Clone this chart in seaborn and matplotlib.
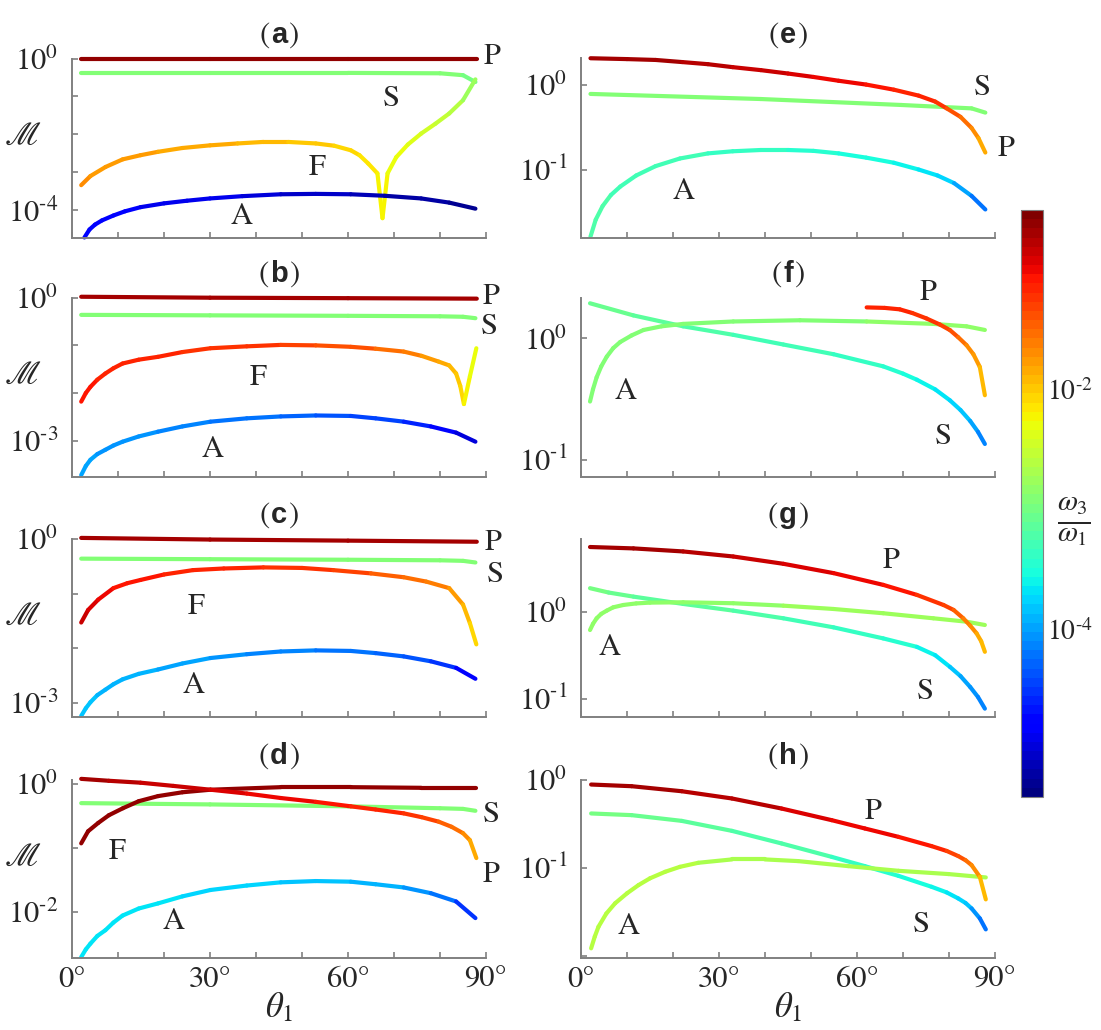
import numpy as np
import matplotlib
matplotlib.use("Agg")
import matplotlib.pyplot as plt
import seaborn as sns
from matplotlib.collections import LineCollection
from matplotlib.colors import LogNorm
from matplotlib.cm import ScalarMappable
from matplotlib.ticker import NullLocator
from matplotlib.offsetbox import TextArea, HPacker, AnchoredOffsetbox

# --- dados: theta1 (graus), log10(M), log10(w3/w1) ---
# (a)
a_P_th = [2, 30, 60, 88]
a_P_m = [-0.02, -0.02, -0.02, -0.02]
a_P_w = [-0.65, -0.65, -0.65, -0.65]
a_S_th = [2, 30, 60, 80, 85, 87.7]
a_S_m = [-0.38, -0.38, -0.38, -0.39, -0.44, -0.62]
a_S_w = [-2.95, -2.95, -2.95, -2.95, -2.95, -3.1]
a_F_th = [2, 4, 7.3, 11, 14.9, 18.7, 24, 30, 36, 41.6, 47, 53, 57, 60.6, 62.5, 64.4,
          66.4, 67.5, 68.6, 70.5, 73, 75.9, 79, 82, 85, 87.7]
a_F_m = [-3.34, -3.1, -2.86, -2.66, -2.55, -2.46, -2.36, -2.29, -2.24, -2.2, -2.2, -2.24, -2.3,
         -2.42, -2.55, -2.77, -3.03, -4.21, -3.03, -2.6, -2.27, -1.98, -1.72, -1.45, -1.1, -0.55]
a_F_w = [-1.72, -1.73, -1.75, -1.77, -1.79, -1.8, -1.82, -1.84, -1.87, -1.9, -1.94, -1.98, -2.02,
         -2.06, -2.1, -2.15, -2.2, -2.25, -2.27, -2.3, -2.35, -2.4, -2.48, -2.56, -2.7, -2.85]
a_A_th = [2.7, 3.8, 5, 6.5, 9, 11.5, 14.9, 20, 25, 30, 37, 45.4, 53, 60.6, 68, 75.9, 82, 87.7]
a_A_m = [-4.72, -4.51, -4.38, -4.27, -4.14, -4.03, -3.92, -3.82, -3.75, -3.69, -3.63, -3.58,
         -3.57, -3.58, -3.62, -3.69, -3.8, -3.96]
a_A_w = [-4.71, -4.76, -4.78, -4.81, -4.83, -4.85, -4.86, -4.88, -4.9, -4.91, -4.95, -5.0,
         -5.05, -5.11, -5.16, -5.2, -5.25, -5.3]

# (b)
b_P_th = [2, 30, 60, 88]
b_P_m = [0.02, 0.0, -0.01, -0.02]
b_P_w = [-0.7, -0.7, -0.7, -0.7]
b_S_th = [2, 30, 60, 80, 85, 87.7]
b_S_m = [-0.36, -0.37, -0.38, -0.39, -0.40, -0.43]
b_S_w = [-2.95, -2.95, -2.95, -2.95, -2.95, -2.95]
b_F_th = [2, 3, 4, 5.5, 7.25, 9, 11, 14.5, 18.7, 24, 30.1, 38, 45.4, 53, 60.6, 66, 72.1, 76,
          79.7, 82, 83.5, 84.4, 85.2, 86.5, 87.9]
b_F_m = [-2.18, -2.0, -1.87, -1.72, -1.59, -1.48, -1.38, -1.30, -1.24, -1.14, -1.06, -1.02,
         -0.99, -1.0, -1.03, -1.07, -1.13, -1.22, -1.34, -1.42, -1.59, -1.85, -2.23, -1.65, -1.06]
b_F_w = [-1.08, -1.09, -1.1, -1.11, -1.12, -1.13, -1.14, -1.15, -1.17, -1.19, -1.21, -1.25,
         -1.28, -1.33, -1.38, -1.45, -1.55, -1.67, -1.8, -1.88, -1.95, -2.05, -2.15, -2.25, -2.36]
b_A_th = [2, 3, 4, 5.5, 7.25, 9, 11, 14.5, 18.7, 24, 30.1, 38, 45.4, 53, 60.6, 66, 72.1, 78,
          83.5, 87.7]
b_A_m = [-3.72, -3.53, -3.40, -3.28, -3.19, -3.1, -3.02, -2.91, -2.81, -2.7, -2.6, -2.53,
         -2.49, -2.47, -2.48, -2.53, -2.6, -2.7, -2.83, -3.02]
b_A_w = [-3.98, -3.99, -4.0, -4.02, -4.03, -4.04, -4.05, -4.06, -4.08, -4.13, -4.18, -4.23,
         -4.27, -4.33, -4.38, -4.44, -4.52, -4.65, -4.81, -5.2]

# (c)
c_P_th = [2, 30, 60, 88]
c_P_m = [0.02, -0.01, -0.03, -0.05]
c_P_w = [-0.7, -0.7, -0.7, -0.7]
c_S_th = [2, 30, 60, 80, 85, 87.7]
c_S_m = [-0.36, -0.37, -0.38, -0.39, -0.40, -0.43]
c_S_w = [-2.95, -2.95, -2.95, -2.95, -2.95, -2.95]
c_F_th = [2, 3.5, 5.7, 9, 12, 14.9, 20, 26.3, 33, 41.6, 50, 56.8, 65, 72.1, 77, 82, 85, 86.5, 87.9]
c_F_m = [-1.53, -1.30, -1.11, -0.90, -0.81, -0.75, -0.65, -0.57, -0.54, -0.52, -0.53, -0.57,
         -0.63, -0.70, -0.78, -0.90, -1.20, -1.54, -1.93]
c_F_w = [-0.84, -0.9, -0.99, -1.04, -1.07, -1.09, -1.12, -1.14, -1.16, -1.19, -1.23, -1.28,
         -1.38, -1.48, -1.58, -1.68, -1.87, -2.0, -2.17]
c_A_th = [2, 3, 4, 5.5, 7.25, 9, 11, 14.5, 18.7, 24, 30.1, 38, 45.4, 53, 60.6, 66, 72.1, 78,
          83.5, 87.7]
c_A_m = [-3.24, -3.1, -2.99, -2.86, -2.76, -2.66, -2.57, -2.47, -2.39, -2.28, -2.18, -2.11,
         -2.06, -2.04, -2.05, -2.09, -2.15, -2.24, -2.36, -2.56]
c_A_w = [-3.83, -3.84, -3.85, -3.87, -3.88, -3.89, -3.9, -3.92, -3.93, -3.98, -4.03, -4.08,
         -4.13, -4.16, -4.2, -4.25, -4.32, -4.45, -4.62, -5.0]

# (d)
d_P_th = [2, 8, 14.9, 22, 30.1, 38, 45.4, 53, 60.6, 66, 72.1, 76, 79.7, 82.5, 85, 86.5, 87.9]
d_P_m = [0.08, 0.05, 0.02, -0.03, -0.09, -0.15, -0.22, -0.28, -0.35, -0.40, -0.46, -0.52,
         -0.59, -0.67, -0.77, -0.88, -1.16]
d_P_w = [-0.7, -0.74, -0.79, -0.84, -0.89, -0.94, -0.99, -1.04, -1.09, -1.14, -1.19, -1.28,
         -1.38, -1.48, -1.58, -1.75, -1.92]
d_F_th = [2, 3.5, 5.7, 8, 11.06, 14.5, 18.7, 24, 30.1, 45.4, 60.6, 75.9, 87.9]
d_F_m = [-0.93, -0.74, -0.61, -0.49, -0.38, -0.27, -0.19, -0.13, -0.09, -0.05, -0.05, -0.06, -0.06]
d_F_w = [-0.65, -0.65, -0.65, -0.65, -0.65, -0.65, -0.65, -0.65, -0.65, -0.65, -0.65, -0.65, -0.65]
d_S_th = [2, 30, 60, 80, 85, 87.7]
d_S_m = [-0.30, -0.32, -0.35, -0.38, -0.39, -0.42]
d_S_w = [-2.95, -2.95, -2.95, -2.95, -2.95, -2.95]
d_A_th = [2, 3, 4, 5.5, 7.25, 9, 11, 14.5, 18.7, 24, 30.1, 38, 45.4, 53, 60.6, 66, 72.1, 78,
          83.5, 87.7]
d_A_m = [-2.71, -2.59, -2.50, -2.38, -2.29, -2.17, -2.06, -1.95, -1.87, -1.76, -1.66, -1.59,
         -1.54, -1.52, -1.53, -1.57, -1.62, -1.71, -1.84, -2.10]
d_A_w = [-3.64, -3.65, -3.66, -3.67, -3.69, -3.7, -3.7, -3.71, -3.71, -3.72, -3.73, -3.76,
         -3.78, -3.81, -3.85, -3.9, -3.98, -4.1, -4.27, -4.76]

# (e)
e_P_th = [2.06, 10, 16.2, 22, 27.6, 33, 39.1, 45, 50.5, 56, 62, 68, 73.4, 77, 79.5, 82.5,
          84.9, 86.4, 87.9]
e_P_m = [0.31, 0.30, 0.29, 0.265, 0.24, 0.205, 0.17, 0.13, 0.09, 0.045, 0.0, -0.06, -0.13,
         -0.2, -0.28, -0.38, -0.51, -0.63, -0.80]
e_P_w = [-0.65, -0.68, -0.7, -0.72, -0.75, -0.8, -0.84, -0.89, -0.94, -0.99, -1.04, -1.09,
         -1.14, -1.2, -1.28, -1.42, -1.58, -1.77, -1.97]
e_S_th = [2.06, 39.1, 69.6, 84.9, 87.9]
e_S_m = [-0.11, -0.17, -0.24, -0.28, -0.33]
e_S_w = [-2.95, -2.95, -2.95, -2.95, -2.95]
e_A_th = [2.06, 3.2, 4.7, 6.5, 8.55, 12, 16.2, 21.5, 27.6, 33, 39.1, 45, 50.5, 56, 62, 68,
          73.4, 77.5, 81.1, 84.9, 87.9]
e_A_m = [-1.79, -1.59, -1.43, -1.30, -1.20, -1.07, -0.96, -0.87, -0.81, -0.785, -0.77, -0.77,
         -0.78, -0.81, -0.86, -0.92, -1.0, -1.07, -1.16, -1.31, -1.47]
e_A_w = [-3.24, -3.24, -3.24, -3.26, -3.29, -3.29, -3.29, -3.31, -3.34, -3.36, -3.39, -3.41,
         -3.44, -3.47, -3.51, -3.55, -3.59, -3.7, -3.83, -4.08, -4.42]

# (f)
f_S_th = [1.96, 11.4, 22.2, 33.1, 44, 54.9, 65.7, 70, 73, 77, 80.2, 82.5, 84.6, 86.3, 87.8]
f_S_m = [0.29, 0.19, 0.10, 0.03, -0.05, -0.13, -0.23, -0.29, -0.34, -0.42, -0.51, -0.59,
         -0.68, -0.77, -0.87]
f_S_w = [-3.05, -3.1, -3.2, -3.24, -3.29, -3.34, -3.44, -3.49, -3.54, -3.6, -3.69, -3.78,
         -3.88, -4.03, -4.22]
f_A_th = [1.96, 2.6, 3.4, 4.4, 5.6, 7, 8.5, 11, 13.6, 17.5, 22.2, 33.1, 47.6, 62.1, 76.6, 83.8, 87.8]
f_A_m = [-0.52, -0.42, -0.32, -0.23, -0.15, -0.08, -0.03, 0.025, 0.07, 0.10, 0.12, 0.14, 0.15,
         0.14, 0.12, 0.10, 0.07]
f_A_w = [-2.95, -2.95, -2.95, -2.95, -2.94, -2.94, -2.93, -2.93, -2.92, -2.91, -2.9, -2.89,
         -2.88, -2.87, -2.86, -2.85, -2.85]
f_P_th = [62.1, 66, 69.3, 72, 75.1, 78, 80.2, 82, 83.8, 85.3, 86.7, 87.8]
f_P_m = [0.256, 0.252, 0.24, 0.21, 0.165, 0.115, 0.069, 0.01, -0.055, -0.13, -0.235, -0.468]
f_P_w = [-1.14, -1.15, -1.16, -1.2, -1.24, -1.29, -1.33, -1.45, -1.58, -1.72, -1.87, -2.02]

# (g)
g_P_th = [1.96, 11.4, 22.2, 33.1, 44, 54.9, 65.7, 73, 78.8, 81, 83.1, 84.6, 86, 87, 87.8]
g_P_m = [0.743, 0.727, 0.692, 0.634, 0.55, 0.443, 0.308, 0.193, 0.077, 0.02, -0.076, -0.16,
         -0.249, -0.34, -0.461]
g_P_w = [-0.65, -0.7, -0.72, -0.79, -0.84, -0.94, -1.04, -1.14, -1.28, -1.4, -1.53, -1.65,
         -1.77, -1.87, -1.97]
g_S_th = [1.96, 6, 11.4, 22.2, 33.1, 44, 54.9, 65.7, 73, 77, 80.2, 82.5, 84.6, 86.3, 87.8]
g_S_m = [0.27, 0.22, 0.173, 0.089, 0.012, -0.076, -0.18, -0.307, -0.404, -0.5, -0.634, -0.74,
         -0.865, -0.98, -1.114]
g_S_w = [-3.0, -3.05, -3.1, -3.15, -3.2, -3.24, -3.29, -3.39, -3.54, -3.65, -3.78, -3.9,
         -4.03, -4.12, -4.22]
g_A_th = [1.96, 2.6, 3.4, 4.4, 5.6, 7, 9.2, 12, 15, 22.2, 33.1, 44, 54.9, 65.7, 76.6, 83.8, 87.8]
g_A_m = [-0.211, -0.14, -0.076, -0.025, 0.012, 0.05, 0.077, 0.095, 0.104, 0.108, 0.097, 0.069,
         0.031, -0.018, -0.076, -0.115, -0.153]
g_A_w = [-2.85, -2.85, -2.85, -2.85, -2.85, -2.84, -2.84, -2.83, -2.83, -2.82, -2.81, -2.8,
         -2.79, -2.78, -2.77, -2.76, -2.75]

# (h)
h_th = [2.2, 11, 21.9, 32.8, 43.6, 54.5, 61.7, 69, 76.2, 79.5, 82, 83.6, 84.9, 86.7, 88]
h_P_m = [-0.057, -0.076, -0.133, -0.215, -0.329, -0.461, -0.555, -0.65, -0.755, -0.81, -0.868,
         -0.915, -0.97, -1.103, -1.359]
h_P_w = [-0.65, -0.67, -0.72, -0.77, -0.84, -0.94, -0.99, -1.06, -1.14, -1.22, -1.33, -1.45,
         -1.58, -1.82, -1.97]
h_S_m = [-0.385, -0.404, -0.469, -0.582, -0.725, -0.877, -0.982, -1.092, -1.216, -1.28,
         -1.348, -1.40, -1.461, -1.574, -1.699]
h_S_w = [-3.0, -3.02, -3.1, -3.15, -3.22, -3.29, -3.39, -3.46, -3.54, -3.6, -3.69, -3.8,
         -3.93, -4.13, -4.32]
h_A_th = [2.2, 3, 3.8, 5.5, 7.4, 10, 12.5, 15, 18.3, 21.5, 25.5, 32.8, 40, 47.2, 58.1, 69, 79.9, 88]
h_A_m = [-1.914, -1.78, -1.669, -1.52, -1.404, -1.29, -1.197, -1.12, -1.046, -0.99, -0.944,
         -0.906, -0.906, -0.925, -0.982, -1.035, -1.072, -1.11]
h_A_w = [-2.6, -2.6, -2.6, -2.6, -2.61, -2.61, -2.62, -2.62, -2.63, -2.63, -2.64, -2.65,
         -2.66, -2.67, -2.68, -2.69, -2.7, -2.7]

# limites do eixo y (log10) e décadas com rótulo
ylims = {"a": (-4.72, 0.0), "b": (-3.75, 0.0), "c": (-3.26, 0.0), "d": (-2.72, 0.07),
         "e": (-1.80, 0.307), "f": (-1.138, 0.336), "g": (-1.21, 0.835), "h": (-2.02, 0.0)}
ylabeled = {"a": (0, -4), "b": (0, -3), "c": (0, -3), "d": (0, -2),
            "e": (0, -1), "f": (0, -1), "g": (0, -1), "h": (0, -1)}

# rótulos das curvas: (texto, theta, log10 M)
labels = {
    "a": [("P", 91.4, 0.04), ("S", 69.4, -1.06), ("F", 53.4, -2.9), ("A", 36.8, -4.18)],
    "b": [("P", 91.1, 0.02), ("S", 90.8, -0.61), ("F", 40.4, -1.69), ("A", 30.5, -3.19)],
    "c": [("P", 91.5, -0.08), ("S", 91.9, -0.66), ("F", 27.1, -1.24), ("A", 26.5, -2.70)],
    "d": [("F", 9.9, -1.06), ("S", 91.1, -0.48), ("P", 91.1, -1.42), ("A", 22.0, -2.16)],
    "e": [("S", 87.2, -0.04), ("P", 92.4, -0.76), ("A", 22.3, -1.26)],
    "f": [("P", 75.5, 0.377), ("A", 9.6, -0.44), ("S", 78.8, -0.81)],
    "g": [("P", 67.5, 0.577), ("A", 6.3, -0.42), ("S", 74.8, -0.92)],
    "h": [("P", 63.5, -0.367), ("A", 10.3, -1.67), ("S", 74.0, -1.65)],
}

curves = {
    "a": [(a_P_th, a_P_m, a_P_w), (a_S_th, a_S_m, a_S_w), (a_F_th, a_F_m, a_F_w), (a_A_th, a_A_m, a_A_w)],
    "b": [(b_P_th, b_P_m, b_P_w), (b_S_th, b_S_m, b_S_w), (b_F_th, b_F_m, b_F_w), (b_A_th, b_A_m, b_A_w)],
    "c": [(c_P_th, c_P_m, c_P_w), (c_S_th, c_S_m, c_S_w), (c_F_th, c_F_m, c_F_w), (c_A_th, c_A_m, c_A_w)],
    "d": [(d_S_th, d_S_m, d_S_w), (d_A_th, d_A_m, d_A_w), (d_F_th, d_F_m, d_F_w), (d_P_th, d_P_m, d_P_w)],
    "e": [(e_S_th, e_S_m, e_S_w), (e_A_th, e_A_m, e_A_w), (e_P_th, e_P_m, e_P_w)],
    "f": [(f_S_th, f_S_m, f_S_w), (f_A_th, f_A_m, f_A_w), (f_P_th, f_P_m, f_P_w)],
    "g": [(g_S_th, g_S_m, g_S_w), (g_A_th, g_A_m, g_A_w), (g_P_th, g_P_m, g_P_w)],
    "h": [(h_th, h_S_m, h_S_w), (h_A_th, h_A_m, h_A_w), (h_th, h_P_m, h_P_w)],
}

# Configura estilo global
sns.set_style("ticks")
plt.rcParams["font.family"] = ["STIXGeneral", "DejaVu Sans"]
plt.rcParams["mathtext.fontset"] = "stix"

cmap = matplotlib.colormaps["jet"].resampled(64)
norm = LogNorm(vmin=10 ** -5.4, vmax=10 ** -0.5)
cinza = "#808080"


def pot(k):
    # 10^k com hífen curto no expoente, como no original
    if k < 0:
        return rf"$10^{{\text{{-}}{-k}}}$"
    return rf"$10^{{{k}}}$"


fig = plt.figure(figsize=(11.01, 10.30), dpi=100)

# posição dos eixos em pixels
col_x = [(72, 486), (581, 995)]
row_y = [(58.5, 237.5), (297.7, 476.5), (539, 717), (779.5, 957.7)]
W, H = 1101, 1030

for idx, key in enumerate("abcdefgh"):
    col, row = divmod(idx, 4)
    x0, x1 = col_x[col]
    y0, y1 = row_y[row]
    ax = fig.add_axes([x0 / W, 1 - y1 / H, (x1 - x0) / W, (y1 - y0) / H])
    ax.set_yscale("log")
    ax.set_xlim(0, 90)
    lo, hi = ylims[key]
    ax.set_ylim(10 ** lo, 10 ** hi)

    for th, m, w in curves[key]:
        pts = np.column_stack([th, 10.0 ** np.array(m)])
        segs = np.stack([pts[:-1], pts[1:]], axis=1)
        wl = np.array(w)
        cval = 10.0 ** ((wl[:-1] + wl[1:]) / 2)
        lc = LineCollection(segs, cmap=cmap, norm=norm, linewidths=3.0,
                            capstyle="round", joinstyle="round", clip_on=False)
        lc.set_array(cval)
        ax.add_collection(lc)

    for txt, tx, ty in labels[key]:
        ax.text(tx, 10 ** ty, txt, fontsize=22, ha="center", va="center",
                clip_on=False)

    # ticks
    decs = [k for k in range(1, -6, -1) if lo - 1e-6 <= k <= hi + 1e-6]
    ax.set_yticks([10.0 ** k for k in decs])
    ax.set_yticklabels([pot(k) if k in ylabeled[key] else "" for k in decs])
    ax.yaxis.set_minor_locator(NullLocator())
    ax.set_xticks(range(0, 91, 10))
    if row == 3:
        ax.set_xticklabels([f"{v}°" if v % 30 == 0 else "" for v in range(0, 91, 10)])
        ax.set_xlabel(r"$\theta_1$", fontsize=25, labelpad=-2)
    else:
        ax.set_xticklabels([])
    ax.tick_params(axis="both", direction="in", length=4, width=1.2, color=cinza,
                   labelsize=22, pad=6)
    ax.tick_params(axis="y", pad=10)
    sns.despine(ax=ax)
    for s in ("left", "bottom"):
        ax.spines[s].set_color(cinza)
        ax.spines[s].set_linewidth(1.4)

    if col == 0:
        ax.text(-0.12, 0.56, r"$\mathscr{M}$", transform=ax.transAxes,
                fontsize=24, ha="center", va="center")

    # título "(a)" com letra em negrito sem serifa
    partes = [TextArea("(", textprops=dict(fontsize=22, family="STIXGeneral")),
              TextArea(key, textprops=dict(fontsize=21, family="Liberation Sans",
                                           weight="bold")),
              TextArea(")", textprops=dict(fontsize=22, family="STIXGeneral"))]
    caixa = HPacker(children=partes, align="baseline", pad=0, sep=1)
    anc = AnchoredOffsetbox(loc="lower center", child=caixa, pad=0, borderpad=0,
                            frameon=False, bbox_to_anchor=(0.5, 1.05),
                            bbox_transform=ax.transAxes)
    ax.add_artist(anc)

# barra de cores
cax = fig.add_axes([1021 / W, 1 - 797 / H, 22 / W, (797 - 210) / H])
cb = fig.colorbar(ScalarMappable(norm=norm, cmap=cmap), cax=cax)
cb.set_ticks([1e-5, 1e-4, 1e-3, 1e-2, 1e-1])
cb.set_ticklabels(["", pot(-4), "", pot(-2), ""])
cax.yaxis.set_minor_locator(NullLocator())
cax.tick_params(direction="in", length=6, width=1, color="#333333", labelsize=20, pad=3)
cb.outline.set_edgecolor(cinza)
fig.text(1074 / W, 1 - 522 / H, r"$\frac{\omega_3}{\omega_1}$", fontsize=30,
         ha="center", va="center")

fig.savefig("out.png", dpi=100)
